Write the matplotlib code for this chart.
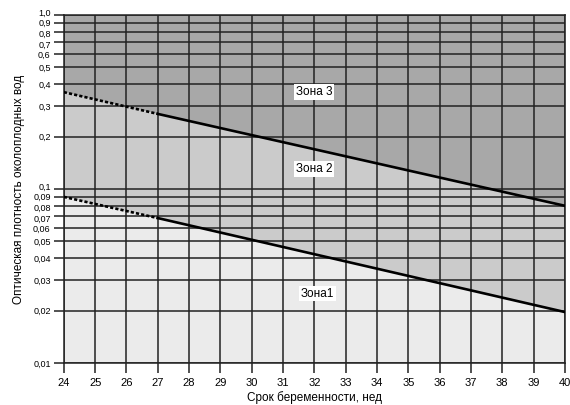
import numpy as np
import matplotlib
matplotlib.use("Agg")
import matplotlib.pyplot as plt
import matplotlib.transforms as mtransforms
from matplotlib.ticker import FixedLocator, NullLocator

plt.rcParams['font.family'] = ['Liberation Sans', 'DejaVu Sans']

# === данные ===
weeks = [24, 27, 40]
upper_line = [0.36, 0.27, 0.08]     # граница зона 2 / зона 3
lower_line = [0.09, 0.068, 0.0196]  # граница зона 1 / зона 2
dotted_until = 27

x_ticks = list(range(24, 41))
y_ticks = [0.01, 0.02, 0.03, 0.04, 0.05, 0.06, 0.07, 0.08, 0.09,
           0.1, 0.2, 0.3, 0.4, 0.5, 0.6, 0.7, 0.8, 0.9, 1.0]
y_labels = [f"{v:g}".replace(".", ",") for v in y_ticks]
y_labels[-1] = "1,0"

zone_names = ["Зона 3", "Зона 2", "Зона1"]
zone_pos = [(32.0, 0.36), (32.0, 0.13), (32.1, 0.025)]

fig = plt.figure(figsize=(5.70, 4.05), dpi=100)
ax = fig.add_axes([0.112, 0.104, 0.879, 0.859])
ax.set_yscale("log")
ax.set_xlim(24, 40)
ax.set_ylim(0.01, 1.0)

# заливка зон
ax.fill_between(weeks, upper_line, 1.0, color="#a8a8a8", lw=0, zorder=0)
ax.fill_between(weeks, lower_line, upper_line, color="#cbcbcb", lw=0, zorder=0)
ax.fill_between(weeks, 0.01, lower_line, color="#ebebeb", lw=0, zorder=0)

# сетка
for v in y_ticks:
    ax.axhline(v, color="#222222", lw=1.1, zorder=1)
for w in x_ticks:
    ax.axvline(w, color="#222222", lw=1.1, zorder=1)

# линии границ зон
k = weeks.index(dotted_until)
for line in (upper_line, lower_line):
    ax.plot(weeks[:k + 1], line[:k + 1], color="black", lw=1.9, ls=(0, (1.2, 0.8)), zorder=3)
    ax.plot(weeks[k:], line[k:], color="black", lw=1.9, zorder=3)

for name, (x, y) in zip(zone_names, zone_pos):
    ax.text(x, y, name, ha="center", va="center", fontsize=8.5, zorder=4,
            bbox=dict(boxstyle="square,pad=0.15", fc="white", ec="none"))

ax.xaxis.set_major_locator(FixedLocator(x_ticks))
ax.yaxis.set_major_locator(FixedLocator(y_ticks))
ax.yaxis.set_minor_locator(NullLocator())
ax.set_xticklabels([str(w) for w in x_ticks])
ax.set_yticklabels(y_labels)
ax.tick_params(axis="both", length=7, width=1.1, color="#222222", labelsize=6.5, pad=2.5)
ax.tick_params(axis="x", labelsize=8, pad=4)

# раздвинуть тесные подписи у верха каждой декады
shift = {"1,0": 2.0, "0,9": 0.5, "0,8": -1.0, "0,7": -1.5, "0,6": -0.5,
         "0,1": 2.0, "0,09": 0.5, "0,08": -1.0, "0,07": -1.5, "0,06": -0.5}
for lab in ax.get_yticklabels():
    d = shift.get(lab.get_text())
    if d:
        lab.set_transform(lab.get_transform() +
                          mtransforms.ScaledTranslation(0, d / 72, fig.dpi_scale_trans))

for s in ax.spines.values():
    s.set_linewidth(1.1)
    s.set_color("#222222")

ax.set_xlabel("Срок беременности, нед", fontsize=8.5, labelpad=2)
ax.set_ylabel("Оптическая плотность околоплодных вод", fontsize=8.5, labelpad=6)

fig.savefig("out.png", dpi=100)
